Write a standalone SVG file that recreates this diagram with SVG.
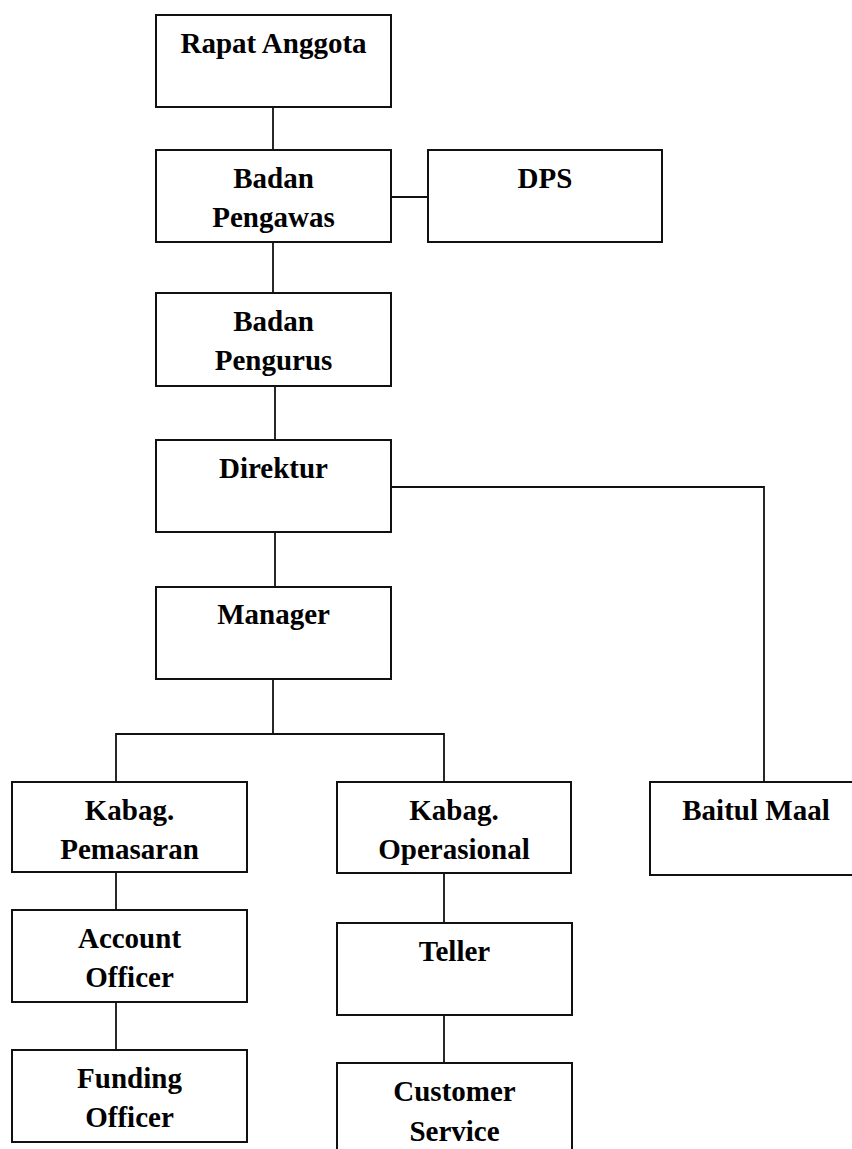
<svg xmlns="http://www.w3.org/2000/svg" width="852" height="1149" viewBox="0 0 852 1149">
<style>
.box{fill:#fff;stroke:#111;stroke-width:2}
.lbl{font-family:"Liberation Serif","Times New Roman",serif;font-weight:bold;font-size:29px;fill:#000;text-anchor:middle}
.conn{fill:none;stroke:#111;stroke-width:1.8}
</style>
<rect width="852" height="1149" fill="#fff"/>
<g id="connectors">
<path class="conn" d="M273 107V150"/>
<path class="conn" d="M391 197H428"/>
<path class="conn" d="M273 242V293"/>
<path class="conn" d="M275 386V440"/>
<path class="conn" d="M391 487H764V782"/>
<path class="conn" d="M275 532V587"/>
<path class="conn" d="M273 679V734"/>
<path class="conn" d="M116 782V734H444V782"/>
<path class="conn" d="M116 872V910"/>
<path class="conn" d="M116 1002V1050"/>
<path class="conn" d="M444 873V923"/>
<path class="conn" d="M444 1015V1063"/>
</g>
<g id="rapat-anggota">
<rect class="box" x="156" y="15" width="235" height="92"/>
<text class="lbl" x="273.5" y="53">Rapat Anggota</text>
</g>
<g id="badan-pengawas">
<rect class="box" x="156" y="150" width="235" height="92"/>
<text class="lbl" x="273.5" y="188">Badan</text>
<text class="lbl" x="273.5" y="227">Pengawas</text>
</g>
<g id="dps">
<rect class="box" x="428" y="150" width="234" height="92"/>
<text class="lbl" x="545" y="188">DPS</text>
</g>
<g id="badan-pengurus">
<rect class="box" x="156" y="293" width="235" height="93"/>
<text class="lbl" x="273.5" y="331">Badan</text>
<text class="lbl" x="273.5" y="370">Pengurus</text>
</g>
<g id="direktur">
<rect class="box" x="156" y="440" width="235" height="92"/>
<text class="lbl" x="273.5" y="478">Direktur</text>
</g>
<g id="manager">
<rect class="box" x="156" y="587" width="235" height="92"/>
<text class="lbl" x="273.5" y="624">Manager</text>
</g>
<g id="kabag-pemasaran">
<rect class="box" x="12" y="782" width="235" height="90"/>
<text class="lbl" x="129.5" y="820">Kabag.</text>
<text class="lbl" x="129.5" y="859">Pemasaran</text>
</g>
<g id="kabag-operasional">
<rect class="box" x="337" y="782" width="234" height="91"/>
<text class="lbl" x="454" y="820">Kabag.</text>
<text class="lbl" x="454" y="859">Operasional</text>
</g>
<g id="baitul-maal">
<rect class="box" x="650" y="782" width="212" height="93"/>
<text class="lbl" x="756" y="820">Baitul Maal</text>
</g>
<g id="account-officer">
<rect class="box" x="12" y="910" width="235" height="92"/>
<text class="lbl" x="129.5" y="948">Account</text>
<text class="lbl" x="129.5" y="987">Officer</text>
</g>
<g id="funding-officer">
<rect class="box" x="12" y="1050" width="235" height="92"/>
<text class="lbl" x="129.5" y="1088">Funding</text>
<text class="lbl" x="129.5" y="1127">Officer</text>
</g>
<g id="teller">
<rect class="box" x="337" y="923" width="235" height="92"/>
<text class="lbl" x="454.5" y="961">Teller</text>
</g>
<g id="customer-service">
<rect class="box" x="337" y="1063" width="235" height="100"/>
<text class="lbl" x="454.5" y="1101">Customer</text>
<text class="lbl" x="454.5" y="1141">Service</text>
</g>
</svg>
